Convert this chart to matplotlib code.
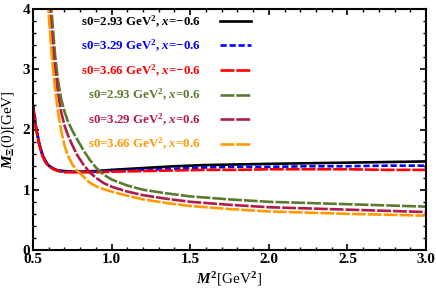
import matplotlib
matplotlib.use("Agg")
import matplotlib.pyplot as plt
from matplotlib.ticker import MultipleLocator, FormatStrFormatter

plt.rcParams['font.family'] = ['Liberation Serif', 'DejaVu Serif']
plt.rcParams['font.weight'] = 'bold'
plt.rcParams['mathtext.fontset'] = 'custom'
plt.rcParams['mathtext.rm'] = 'Liberation Serif:bold'
plt.rcParams['mathtext.it'] = 'Liberation Serif:bold:italic'
plt.rcParams['mathtext.bf'] = 'Liberation Serif:bold'
plt.rcParams['lines.scale_dashes'] = False

# x = -0.6 curves
m2_neg = [0.5, 0.52, 0.54, 0.56, 0.58, 0.6, 0.63, 0.66, 0.7, 0.75, 0.8, 0.9,
          1.0, 1.2, 1.4, 1.6, 1.8, 2.0, 2.25, 2.5, 2.75, 3.0]
m_s293_neg = [2.40, 2.02, 1.76, 1.58, 1.47, 1.40, 1.35, 1.32, 1.31, 1.30, 1.30, 1.31,
              1.33, 1.36, 1.39, 1.41, 1.42, 1.43, 1.44, 1.45, 1.46, 1.47]
m_s329_neg = [2.40, 2.02, 1.76, 1.58, 1.47, 1.40, 1.35, 1.32, 1.30, 1.30, 1.30, 1.30,
              1.31, 1.33, 1.35, 1.37, 1.38, 1.38, 1.39, 1.39, 1.40, 1.40]
m_s366_neg = [2.38, 2.00, 1.74, 1.56, 1.45, 1.39, 1.34, 1.31, 1.29, 1.29, 1.29, 1.29,
              1.30, 1.31, 1.32, 1.33, 1.33, 1.34, 1.34, 1.34, 1.33, 1.33]

# x = 0.6 curves
m2_pos = [0.5, 0.53, 0.56, 0.58, 0.6, 0.62, 0.64, 0.66, 0.68, 0.7, 0.72, 0.75, 0.78,
          0.82, 0.86, 0.9, 0.95, 1.0, 1.1, 1.2, 1.35, 1.5, 1.75, 2.0, 2.25, 2.5, 2.75, 3.0]
m_s293_pos = [10.0, 7.9, 6.2, 5.1, 4.4, 3.9, 3.25, 2.8, 2.5, 2.3, 2.15, 1.98, 1.84,
              1.66, 1.50, 1.37, 1.25, 1.17, 1.07, 1.00, 0.94, 0.89, 0.84, 0.80, 0.78, 0.76, 0.74, 0.72]
m_s329_pos = [9.5, 7.4, 5.8, 4.8, 4.15, 3.55, 3.0, 2.58, 2.28, 2.07, 1.92, 1.74, 1.58,
              1.42, 1.29, 1.20, 1.11, 1.05, 0.97, 0.91, 0.85, 0.80, 0.75, 0.71, 0.69, 0.67, 0.65, 0.63]
m_s366_pos = [9.0, 7.0, 5.4, 4.55, 3.9, 3.2, 2.68, 2.28, 1.97, 1.74, 1.58, 1.42, 1.32,
              1.22, 1.12, 1.06, 1.01, 0.97, 0.90, 0.84, 0.78, 0.73, 0.68, 0.64, 0.62, 0.60, 0.585, 0.57]

labels = [r"s0=2.93 GeV$^{2}$, $x$=$-$0.6",
          r"s0=3.29 GeV$^{2}$, $x$=$-$0.6",
          r"s0=3.66 GeV$^{2}$, $x$=$-$0.6",
          r"s0=2.93 GeV$^{2}$, $x$=0.6",
          r"s0=3.29 GeV$^{2}$, $x$=0.6",
          r"s0=3.66 GeV$^{2}$, $x$=0.6"]
colors = ['black', '#0000ff', '#ff0000', '#5a7a2e', '#b01c4a', '#ff9a00']

fig = plt.figure(figsize=(4.36, 2.96), dpi=100)
ax = fig.add_axes([0.0757, 0.1554, 0.9013, 0.8142])

lw = 1.9
long_dash = (10, 1.4)
ax.plot(m2_neg, m_s293_neg, color=colors[0], lw=lw, label=labels[0])
ax.plot(m2_neg, m_s329_neg, color=colors[1], lw=lw, dashes=(4.5, 2.0), label=labels[1])
ax.plot(m2_neg, m_s366_neg, color=colors[2], lw=lw, dashes=long_dash, label=labels[2])
ax.plot(m2_pos, m_s293_pos, color=colors[3], lw=lw, dashes=long_dash, label=labels[3])
ax.plot(m2_pos, m_s329_pos, color=colors[4], lw=lw, dashes=long_dash, label=labels[4])
ax.plot(m2_pos, m_s366_pos, color=colors[5], lw=lw, dashes=long_dash, label=labels[5])

ax.set_xlim(0.5, 3.0)
ax.set_ylim(0, 4)
ax.xaxis.set_major_locator(MultipleLocator(0.5))
ax.xaxis.set_minor_locator(MultipleLocator(0.1))
ax.yaxis.set_major_locator(MultipleLocator(1))
ax.yaxis.set_minor_locator(MultipleLocator(0.2))
ax.xaxis.set_major_formatter(FormatStrFormatter('%.1f'))
ax.tick_params(which='both', direction='in', top=True, right=True, labelsize=11, pad=2)
ax.tick_params(which='major', length=4, width=1.2)
ax.tick_params(which='minor', length=2.2, width=1.0)
for s in ax.spines.values():
    s.set_linewidth(1.5)

ax.set_xlabel(r"$M^{2}$[GeV$^{2}$]", fontsize=11, labelpad=3)
ax.set_ylabel(r"$M_{\Xi}$(0)[GeV]", fontsize=11, labelpad=4)

ax.legend(loc='upper right', bbox_to_anchor=(0.555, 0.982), frameon=False,
          markerfirst=False, labelcolor='linecolor', fontsize=9.3,
          handlelength=2.4, handletextpad=1.5, labelspacing=0.64,
          borderpad=0, borderaxespad=0)

fig.savefig("out.png", dpi=100)
